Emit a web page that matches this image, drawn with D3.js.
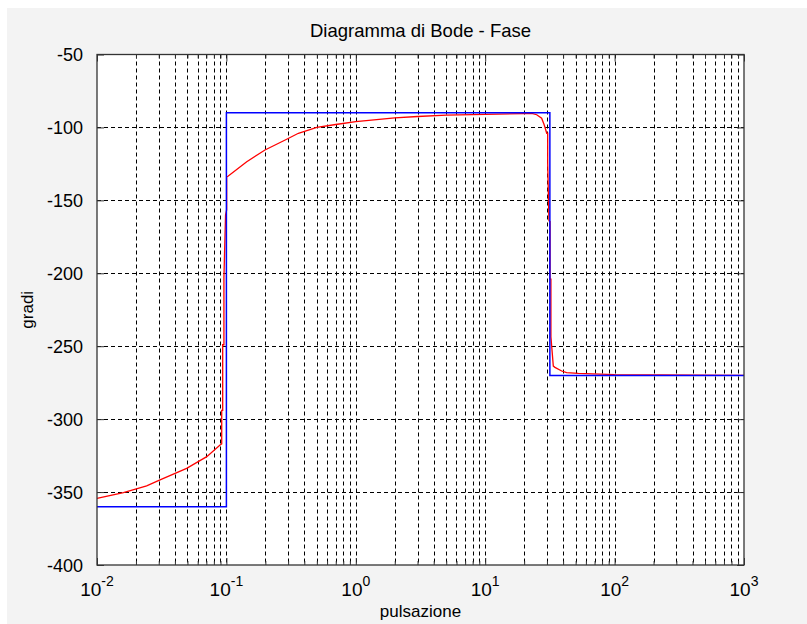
<!DOCTYPE html>
<html>
<head>
<meta charset="utf-8">
<script src="https://cdn.jsdelivr.net/npm/d3@7"></script>
<style>
  body { margin: 0; background: #fff; }
  svg { display: block; }
  text { font-family: "Liberation Sans", Arial, sans-serif; fill: #000; }
</style>
</head>
<body>
<div id="plot"></div>
<script>
// Chart data
const title = 'Diagramma di Bode - Fase';
const xLabel = 'pulsazione';
const yLabel = 'gradi';
const xDomain = [0.01, 1000];
const yDomain = [-400, -50];
const yTicks = [-400, -350, -300, -250, -200, -150, -100, -50];
const xMajor = [0.01, 0.1, 1, 10, 100, 1000];
const xExponents = ['-2', '-1', '0', '1', '2', '3'];

// asymptotic diagram (blue)
const asymW = [0.01, 0.1, 0.1, 31.6, 31.6, 1000];
const asymP = [-360, -360, -90, -90, -270, -270];

// real phase (red)
const phaseW = [0.01, 0.016, 0.0242, 0.0307, 0.0493, 0.0705, 0.0893, 0.0920, 0.0920, 0.0936, 0.0936,
  0.0957, 0.0957, 0.0985, 0.1005, 0.1005, 0.1034, 0.1436, 0.1987, 0.2924, 0.36, 0.5, 0.7, 1, 2, 3, 5,
  10, 20, 22.9, 25.0, 27.3, 28.6, 29.9, 30.4, 30.4, 31.1, 31.7, 31.7, 32.2, 32.2, 33.6, 34.6, 39.0,
  42.6, 52.4, 100, 1000];
const phaseP = [-354.3, -350.4, -345.8, -341.7, -333.7, -325.7, -317.7, -317, -294, -294, -249,
  -249, -203, -160, -156.6, -134, -133.3, -123.5, -115.5, -108.1, -104, -100, -98, -96, -93.5, -92.5, -91.5,
  -91, -90.5, -90.3, -91.3, -93.7, -98.3, -104, -104, -124.6, -164, -164.6, -204, -204, -243.5, -263.6, -264.5, -267,
  -268.1, -268.6, -269.5, -270];

const width = 807, height = 624;
const margin = { top: 54.5, right: 63, bottom: 59, left: 97 };
const innerW = width - margin.left - margin.right;
const innerH = height - margin.top - margin.bottom;

const svg = d3.select('#plot')
  .append('svg')
  .attr('width', width)
  .attr('height', height);

// figure background (grey with thin white strip at top/left)
svg.append('rect')
  .attr('x', 7).attr('y', 8)
  .attr('width', width - 7).attr('height', height - 8)
  .attr('fill', '#f3f3f3');

const x = d3.scaleLog().domain(xDomain).range([margin.left, width - margin.right]);
const y = d3.scaleLinear().domain(yDomain).range([height - margin.bottom, margin.top]);

// minor log positions
const xMinor = [];
xMajor.slice(0, -1).forEach(m => { for (let k = 2; k <= 9; k++) xMinor.push(m * k); });
const xGridVals = xMajor.concat(xMinor).filter(v => v > xDomain[0] && v < xDomain[1]);

// plot area
svg.append('rect')
  .attr('x', margin.left).attr('y', margin.top)
  .attr('width', innerW).attr('height', innerH)
  .attr('fill', '#fff');

// grid
const grid = svg.append('g')
  .attr('stroke', '#000')
  .attr('stroke-width', 1)
  .attr('stroke-dasharray', '4,3');

grid.selectAll('.vg')
  .data(xGridVals)
  .join('line')
  .attr('x1', d => Math.round(x(d)) + 0.5).attr('x2', d => Math.round(x(d)) + 0.5)
  .attr('y1', margin.top).attr('y2', height - margin.bottom);

grid.selectAll('.hg')
  .data(yTicks.filter(v => v > yDomain[0] && v < yDomain[1]))
  .join('line')
  .attr('x1', margin.left).attr('x2', width - margin.right)
  .attr('y1', d => Math.round(y(d)) + 0.5).attr('y2', d => Math.round(y(d)) + 0.5);

// curves
const line = d3.line().x(d => x(d[0])).y(d => y(d[1]));

svg.append('path')
  .datum(phaseW.map((w, i) => [w, phaseP[i]]))
  .attr('d', line)
  .attr('fill', 'none')
  .attr('stroke', '#ff0000')
  .attr('stroke-width', 1.3);

svg.append('path')
  .datum(asymW.map((w, i) => [w, asymP[i]]))
  .attr('d', line)
  .attr('fill', 'none')
  .attr('stroke', '#0000ff')
  .attr('stroke-width', 1.5);

// axes: ticks pointing inward, on all four sides
const tickStyle = g => {
  g.select('.domain').remove();
  g.selectAll('line').attr('stroke', '#333');
};

svg.append('g')
  .attr('transform', `translate(0,${height - margin.bottom})`)
  .call(d3.axisBottom(x).tickValues(xMajor).tickSizeInner(-7).tickSizeOuter(0).tickFormat(''))
  .call(tickStyle);
svg.append('g')
  .attr('transform', `translate(0,${height - margin.bottom})`)
  .call(d3.axisBottom(x).tickValues(xMinor).tickSizeInner(-4).tickSizeOuter(0).tickFormat(''))
  .call(tickStyle);
svg.append('g')
  .attr('transform', `translate(0,${margin.top})`)
  .call(d3.axisTop(x).tickValues(xMajor).tickSizeInner(-7).tickSizeOuter(0).tickFormat(''))
  .call(tickStyle);
svg.append('g')
  .attr('transform', `translate(0,${margin.top})`)
  .call(d3.axisTop(x).tickValues(xMinor).tickSizeInner(-4).tickSizeOuter(0).tickFormat(''))
  .call(tickStyle);

const yAxis = svg.append('g')
  .attr('transform', `translate(${margin.left},0)`)
  .call(d3.axisLeft(y).tickValues(yTicks).tickSizeInner(-7).tickSizeOuter(0).tickPadding(14)
    .tickFormat(d => String(d)))
  .call(tickStyle);
yAxis.selectAll('text')
  .style('font-size', '18px')
  .attr('dy', '0.36em');

svg.append('g')
  .attr('transform', `translate(${width - margin.right},0)`)
  .call(d3.axisRight(y).tickValues(yTicks).tickSizeInner(-7).tickSizeOuter(0).tickFormat(''))
  .call(tickStyle);

// x tick labels as 10^n
const xLab = svg.append('g');
xMajor.forEach((v, i) => {
  const t = xLab.append('text')
    .attr('x', x(v))
    .attr('y', height - margin.bottom + 31)
    .attr('text-anchor', 'middle')
    .style('font-size', '19px');
  t.append('tspan').text('10');
  t.append('tspan')
    .attr('dy', -10)
    .style('font-size', '14px')
    .text(xExponents[i]);
});

// frame
svg.append('rect')
  .attr('x', margin.left).attr('y', margin.top)
  .attr('width', innerW).attr('height', innerH)
  .attr('fill', 'none')
  .attr('stroke', '#333')
  .attr('stroke-width', 1.3);

// title
svg.append('text')
  .attr('x', margin.left + innerW / 2)
  .attr('y', 37)
  .attr('text-anchor', 'middle')
  .style('font-size', '18.5px')
  .text(title);

// x-axis label
svg.append('text')
  .attr('x', margin.left + innerW / 2)
  .attr('y', 617)
  .attr('text-anchor', 'middle')
  .style('font-size', '17px')
  .text(xLabel);

// y-axis label
svg.append('text')
  .attr('transform', `translate(33,${margin.top + innerH / 2}) rotate(-90)`)
  .attr('text-anchor', 'middle')
  .style('font-size', '17px')
  .text(yLabel);
</script>
</body>
</html>
